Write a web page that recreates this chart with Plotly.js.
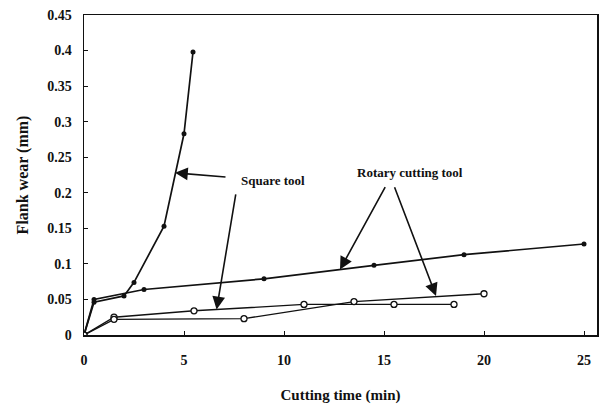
<!DOCTYPE html>
<html>
<head>
<meta charset="utf-8">
<script src="https://cdn.plot.ly/plotly-3.0.1.min.js"></script>
<style>html,body{margin:0;padding:0;background:#fff;}#chart{width:608px;height:410px;}</style>
</head>
<body>
<div id="chart"></div>
<script>
// Square tool (steep, filled markers)
const squareA_t = [0, 0.5, 2, 2.5, 4, 5, 5.45];
const squareA_w = [0, 0.046, 0.055, 0.074, 0.153, 0.283, 0.398];
// Square tool (open markers)
const squareB_t = [0, 1.5, 5.5, 11, 15.5, 18.5];
const squareB_w = [0, 0.025, 0.034, 0.043, 0.043, 0.043];
// Rotary cutting tool (filled markers)
const rotaryA_t = [0, 0.5, 3, 9, 14.5, 19, 25];
const rotaryA_w = [0, 0.05, 0.064, 0.079, 0.098, 0.113, 0.128];
// Rotary cutting tool (open markers)
const rotaryB_t = [0, 1.5, 8, 13.5, 20];
const rotaryB_w = [0, 0.022, 0.023, 0.047, 0.058];

const xTicks = [0, 5, 10, 15, 20, 25];
const yTicks = [0, 0.05, 0.1, 0.15, 0.2, 0.25, 0.3, 0.35, 0.4, 0.45];
const yTickText = ["0", "0.05", "0.1", "0.15", "0.2", "0.25", "0.3", "0.35", "0.4", "0.45"];

const serif = "Liberation Serif, Times New Roman, serif";
const filled = {color: "#111", size: 5, symbol: "circle"};
const openM = {color: "#fff", size: 6, symbol: "circle", line: {color: "#111", width: 1.3}};

const traces = [
  {x: squareA_t, y: squareA_w, mode: "lines+markers", line: {color: "#111", width: 1.7}, marker: filled},
  {x: squareB_t, y: squareB_w, mode: "lines+markers", line: {color: "#111", width: 1.4}, marker: openM},
  {x: rotaryA_t, y: rotaryA_w, mode: "lines+markers", line: {color: "#111", width: 1.7}, marker: filled},
  {x: rotaryB_t, y: rotaryB_w, mode: "lines+markers", line: {color: "#111", width: 1.4}, marker: openM}
];

function arrow(x, y, ax, ay) {
  return {x: x, y: y, ax: ax, ay: ay, axref: "x", ayref: "y", xref: "x", yref: "y",
    text: "", showarrow: true, arrowhead: 2, arrowsize: 1.6, arrowwidth: 1.6, arrowcolor: "#111"};
}

const layout = {
  width: 608, height: 410,
  margin: {l: 84, r: 11, t: 15, b: 75},
  paper_bgcolor: "#fff", plot_bgcolor: "#fff",
  showlegend: false,
  font: {family: serif, color: "#111"},
  xaxis: {
    range: [0, 25.65], tickvals: xTicks, ticktext: xTicks.map(String),
    ticks: "inside", ticklen: 4, tickcolor: "#111",
    showline: true, linecolor: "#111", linewidth: 1.5, mirror: true,
    showgrid: false, zeroline: false,
    tickfont: {family: serif, size: 14, color: "#111", weight: "bold"},
    ticklabelstandoff: 12,
    title: {text: "<b>Cutting time (min)</b>", font: {family: serif, size: 15, color: "#111"}, standoff: 22}
  },
  yaxis: {
    range: [0, 0.45], tickvals: yTicks, ticktext: yTickText,
    ticks: "inside", ticklen: 4, tickcolor: "#111",
    showline: true, linecolor: "#111", linewidth: 1.5, mirror: true,
    showgrid: false, zeroline: false,
    tickfont: {family: serif, size: 14, color: "#111", weight: "bold"},
    ticklabelstandoff: 8,
    title: {text: "<b>Flank wear (mm)</b>", font: {family: serif, size: 16, color: "#111"}, standoff: 14}
  },
  annotations: [
    {x: 9.45, y: 0.217, xref: "x", yref: "y", text: "<b>Square tool</b>", showarrow: false,
     font: {family: serif, size: 13, color: "#111"}},
    {x: 16.3, y: 0.228, xref: "x", yref: "y", text: "<b>Rotary cutting tool</b>", showarrow: false,
     font: {family: serif, size: 13, color: "#111"}},
    arrow(4.55, 0.228, 7.15, 0.222),
    arrow(6.63, 0.036, 7.6, 0.200),
    arrow(12.8, 0.092, 15.1, 0.210),
    arrow(17.6, 0.055, 15.5, 0.210)
  ]
};

Plotly.newPlot("chart", traces, layout, {staticPlot: true, displayModeBar: false});
</script>
</body>
</html>
